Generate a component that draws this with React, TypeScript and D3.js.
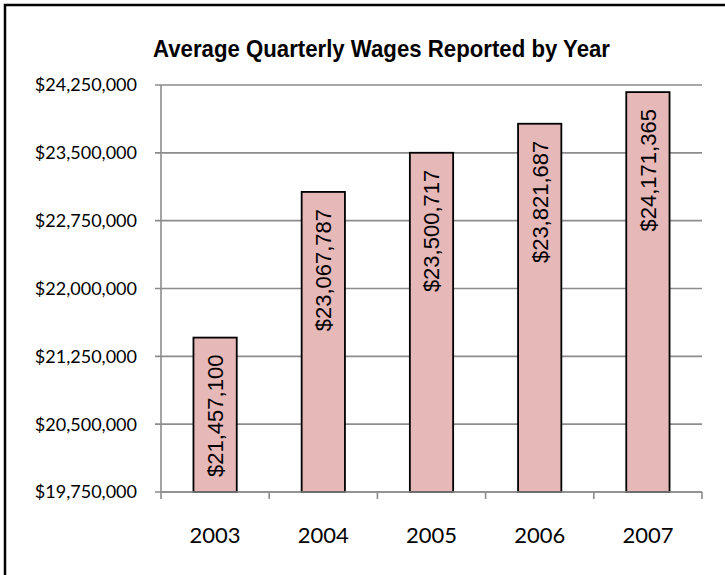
import React from 'react';
import * as d3 from 'd3';

// values
const years = ['2003', '2004', '2005', '2006', '2007'];
const wages = [21457100, 23067787, 23500717, 23821687, 24171365];
const yTicks = [19750000, 20500000, 21250000, 22000000, 22750000, 23500000, 24250000];
const title = 'Average  Quarterly Wages Reported by Year';

const width = 725, height = 575;
const plot = { left: 161, right: 702, top: 85, bottom: 492 };

export default function App() {
  const x = d3.scaleBand<string>()
    .domain(years)
    .range([plot.left, plot.right])
    .paddingInner(0.6)
    .paddingOuter(0.3);

  const y = d3.scaleLinear()
    .domain([yTicks[0], yTicks[yTicks.length - 1]])
    .range([plot.bottom, plot.top]);

  const fmt = d3.format('$,');
  const step = x.step();
  // category boundaries for the x tick marks
  const bounds = d3.range(years.length + 1).map(i => plot.left + i * step);

  return (
    <svg width={width} height={height} style={{ position: 'absolute', left: 0, top: 0, background: '#fff' }}>
      <rect x={5} y={5} width={width + 20} height={height + 20} fill="#fff" stroke="#000" strokeWidth={2.5} />

      <text x={153} y={57} fontFamily="'Liberation Sans', Arial, sans-serif" fontSize={24} fontWeight="bold"
        textLength={457} lengthAdjust="spacingAndGlyphs" fill="#000">{title}</text>

      {/* gridlines + y ticks */}
      {yTicks.map(t => (
        <g key={t}>
          <line x1={plot.left - 6} x2={plot.right} y1={y(t)} y2={y(t)} stroke="#8c8c8c" strokeWidth={1.6} />
          <text x={137} y={y(t)} dy="0.36em" textAnchor="end" fontFamily="Lato, sans-serif" fontSize={18} fill="#000">
            {fmt(t)}
          </text>
        </g>
      ))}

      {/* y axis line */}
      <line x1={plot.left} x2={plot.left} y1={plot.top} y2={plot.bottom} stroke="#8c8c8c" strokeWidth={1.6} />

      {/* bars */}
      {wages.map((v, i) => {
        const bx = x(years[i]) as number;
        const top = y(v);
        return (
          <g key={years[i]}>
            <rect x={bx} y={top} width={x.bandwidth()} height={plot.bottom - top}
              fill="#e6b8b7" stroke="#000" strokeWidth={1.8} />
            <text transform={`translate(${bx + x.bandwidth() / 2},${top + 17}) rotate(-90)`}
              dy="0.36em" textAnchor="end" fontFamily="'Liberation Sans', Arial, sans-serif" fontSize={22} fill="#000">
              {fmt(v)}
            </text>
          </g>
        );
      })}

      {/* x axis */}
      <line x1={plot.left} x2={plot.right} y1={plot.bottom} y2={plot.bottom} stroke="#8c8c8c" strokeWidth={1.6} />
      {bounds.map((bx, i) => (
        <line key={i} x1={bx} x2={bx} y1={plot.bottom} y2={plot.bottom + 7} stroke="#8c8c8c" strokeWidth={1.6} />
      ))}
      {years.map(yr => (
        <text key={yr} x={(x(yr) as number) + x.bandwidth() / 2} y={543} textAnchor="middle"
          fontFamily="Lato, sans-serif" fontSize={22} fill="#000">{yr}</text>
      ))}
    </svg>
  );
}
